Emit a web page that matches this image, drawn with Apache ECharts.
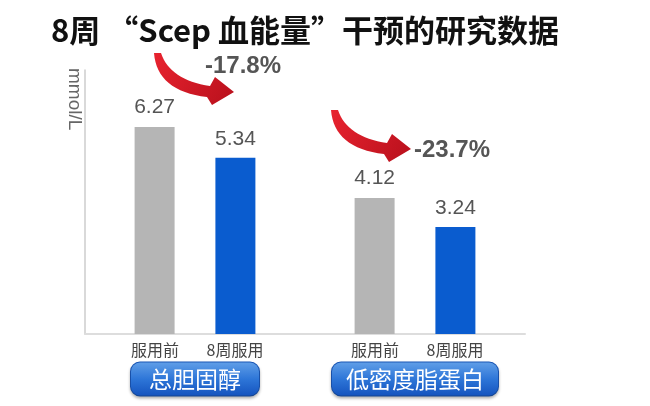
<!DOCTYPE html>
<html>
<head>
<meta charset="utf-8">
<script src="https://cdn.jsdelivr.net/npm/echarts@6/dist/echarts.min.js"></script>
<style>html,body{margin:0;padding:0;background:#fff}#c{width:650px;height:406px}</style>
</head>
<body>
<div id="c"></div>
<script>
const titleText = '8周 “Scep 血能量”干预的研究数据';
const unitLabel = 'mmol/L';
const categories = ['总胆固醇', '低密度脂蛋白'];
const seriesNames = ['服用前', '8周服用'];
const beforeValues = [6.27, 4.12];
const afterValues = [5.34, 3.24];
const changeLabels = ['-17.8%', '-23.7%'];

const chart = echarts.init(document.getElementById('c'), null, {renderer: 'canvas'});

const btnBg = {
  type: 'linear', x: 0, y: 0, x2: 0, y2: 1,
  colorStops: [{offset: 0, color: '#62a0e8'}, {offset: 0.5, color: '#2e76d8'}, {offset: 1, color: '#1352bd'}]
};
function btnStyle(pad) {
  return {
    fontSize: 23, color: '#fff', fontFamily: 'Noto Sans CJK SC',
    lineHeight: 24, padding: [5, pad, 5, pad], align: 'center',
    backgroundColor: btnBg, borderColor: '#1b58b8', borderWidth: 1, borderRadius: 9,
    shadowColor: 'rgba(0,0,0,0.25)', shadowBlur: 3, shadowOffsetY: 2
  };
}

function quad(p0, c, p1, n) {
  const pts = [];
  for (let k = 0; k <= n; k++) {
    const t = k / n, u = 1 - t;
    pts.push([u * u * p0[0] + 2 * u * t * c[0] + t * t * p1[0], u * u * p0[1] + 2 * u * t * c[1] + t * t * p1[1]]);
  }
  return pts;
}
function arrowPoints(dx, dy) {
  let pts = [[154, 53]];
  pts = pts.concat(quad([161, 53], [170, 80], [210, 86], 16));
  pts.push([215, 77], [234, 92], [212, 105]);
  pts = pts.concat(quad([207, 97], [157, 91], [154, 53], 16));
  return pts.map(p => [p[0] + dx, p[1] + dy]);
}
const arrowFill = {
  type: 'linear', x: 0, y: 0, x2: 1, y2: 1,
  colorStops: [{offset: 0, color: '#e8232f'}, {offset: 1, color: '#b8101c'}]
};

const option = {
  animation: false,
  title: {
    text: titleText, left: 46, top: 10,
    textStyle: {fontSize: 31, fontWeight: 'bold', color: '#111', fontFamily: 'Noto Sans CJK SC'}
  },
  grid: {left: 85, top: 70, width: 440, bottom: 72},
  xAxis: {
    type: 'category', data: categories,
    axisLine: {lineStyle: {color: '#dddddd', width: 2}},
    axisTick: {show: false},
    axisLabel: {
      interval: 0, margin: -2,
      formatter: function (v, i) {
        return '{a|' + seriesNames[0] + '}{a|' + seriesNames[1] + '}\n{btn' + i + '|' + v + '}';
      },
      rich: {
        a: {fontSize: 16, color: '#444', fontFamily: 'Noto Sans CJK SC', width: 80, align: 'center', lineHeight: 35},
        btn0: btnStyle(18),
        btn1: btnStyle(14)
      }
    }
  },
  yAxis: {
    type: 'value', min: 0, max: 8,
    axisLine: {show: true, lineStyle: {color: '#cccccc', width: 1.5}},
    axisTick: {show: false}, axisLabel: {show: false}, splitLine: {show: false}
  },
  series: [
    {
      type: 'bar', name: seriesNames[0], data: beforeValues, barWidth: 40, barGap: '102%',
      itemStyle: {color: '#b5b5b5'},
      label: {show: true, position: 'top', distance: 9, fontSize: 21, color: '#555', fontFamily: 'Liberation Sans'}
    },
    {
      type: 'bar', name: seriesNames[1], data: afterValues, barWidth: 40,
      itemStyle: {color: '#0a5ccf'},
      label: {show: true, position: 'top', distance: 8, fontSize: 21, color: '#555', fontFamily: 'Liberation Sans'}
    }
  ],
  graphic: [
    {type: 'text', x: 74, y: 68, rotation: -Math.PI / 2,
     style: {text: unitLabel, fill: '#666', font: '19px "Liberation Sans"', textAlign: 'left', textVerticalAlign: 'middle'}},
    {type: 'polygon', shape: {points: arrowPoints(0, 0)}, style: {fill: arrowFill}},
    {type: 'polygon', shape: {points: arrowPoints(177, 57)}, style: {fill: arrowFill}},
    {type: 'text', x: 205, y: 66,
     style: {text: changeLabels[0], fill: '#555', font: 'bold 24px "Liberation Sans"', textAlign: 'left', textVerticalAlign: 'middle'}},
    {type: 'text', x: 414, y: 150,
     style: {text: changeLabels[1], fill: '#555', font: 'bold 24px "Liberation Sans"', textAlign: 'left', textVerticalAlign: 'middle'}}
  ]
};
chart.setOption(option);
</script>
</body>
</html>
